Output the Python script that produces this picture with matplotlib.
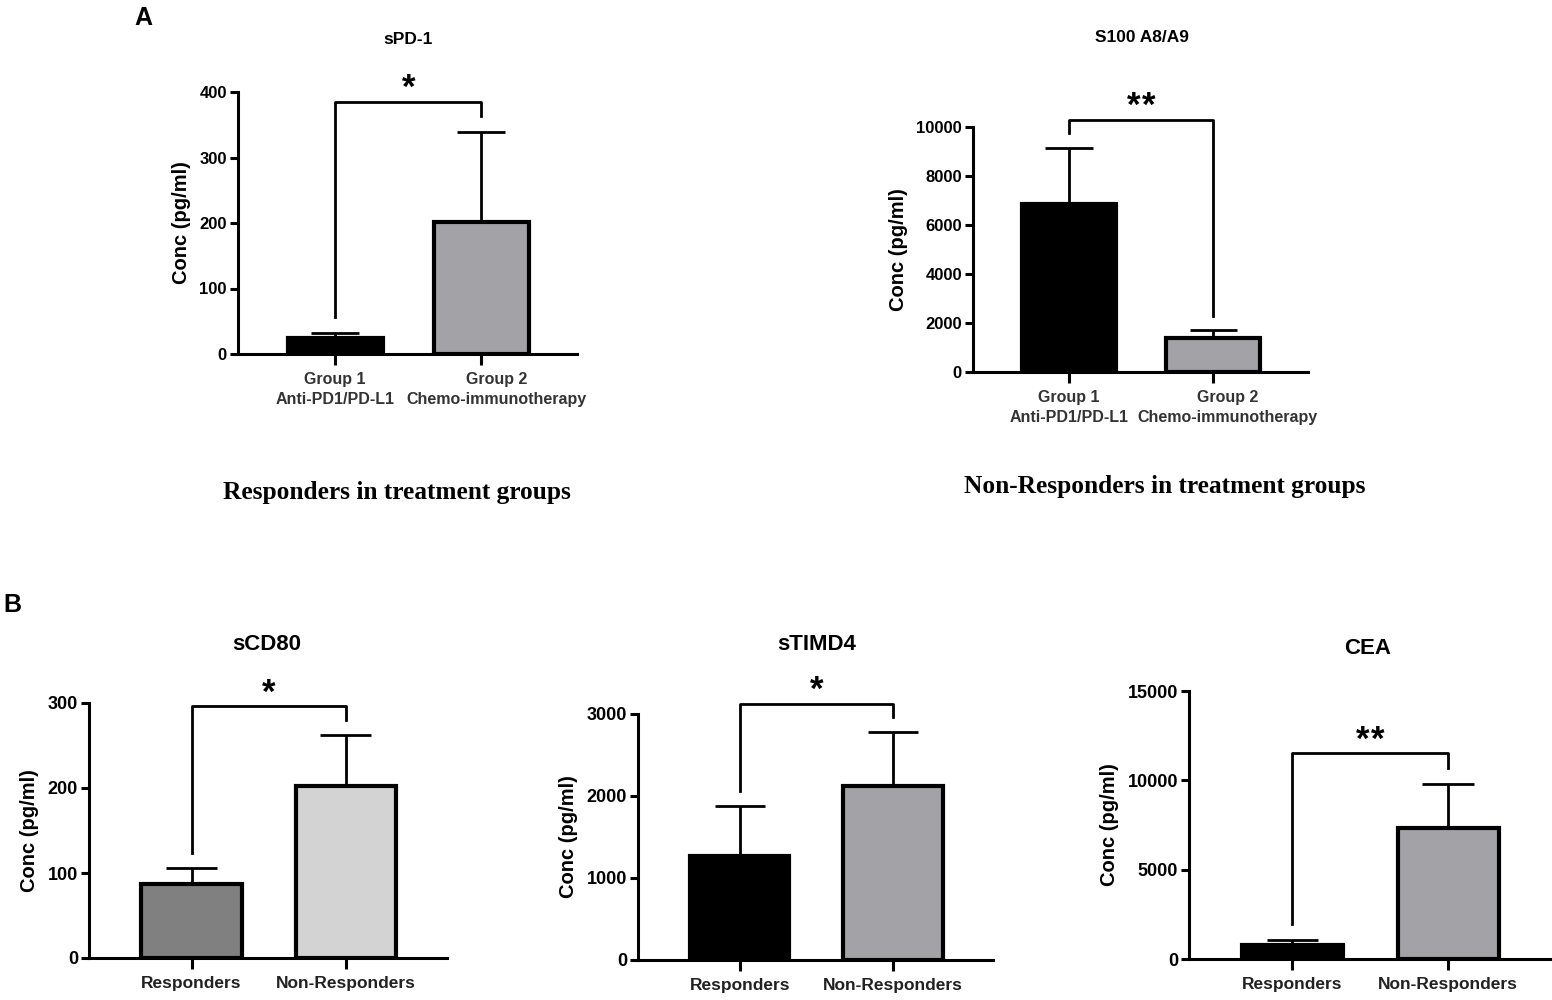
import matplotlib
matplotlib.use("Agg")
import matplotlib.pyplot as plt
import matplotlib.transforms as mtransforms

plt.rcParams['font.family'] = ['Liberation Sans', 'DejaVu Sans']

# ---------------- data ----------------
groups_A = ["Group 1\nAnti-PD1/PD-L1", "Group 2\nChemo-immunotherapy"]
groups_B = ["Responders", "Non-Responders"]

spd1_mean = [25, 201]
spd1_err = [7, 138]

s100_mean = [6850, 1380]
s100_err = [2300, 320]

scd80_mean = [87, 202]
scd80_err = [19, 60]

stimd4_mean = [1270, 2120]
stimd4_err = [610, 660]

cea_mean = [800, 7350]
cea_err = [250, 2450]

titles = ["sPD-1", "S100 A8/A9", "sCD80", "sTIMD4", "CEA"]
stars = ["*", "**", "*", "*", "**"]
ymax = [400, 10000, 300, 3000, 15000]
yticks = [[0, 100, 200, 300, 400],
          [0, 2000, 4000, 6000, 8000, 10000],
          [0, 100, 200, 300],
          [0, 1000, 2000, 3000],
          [0, 5000, 10000, 15000]]
ylabel = "Conc (pg/ml)"
subtitle_A1 = "Responders in treatment groups"
subtitle_A2 = "Non-Responders in treatment groups"

GRAY = '#a3a3a7'
colors = [['black', GRAY], ['black', GRAY], ['#808080', '#d3d3d3'],
          ['black', GRAY], ['black', GRAY]]

W, H = 1552, 1000
fig = plt.figure(figsize=(W / 100, H / 100), dpi=100)


def px_axes(l, t, r, b):
    return fig.add_axes([l / W, 1 - b / H, (r - l) / W, (b - t) / H])


def panel(box, means, errs, labels, cols, ym, ticks, star, title, title_xy,
          title_fs, tick_fs, xlab_fs, xlab_color, shift_second=0.0):
    ax = px_axes(*box)
    x = list(range(len(means)))
    ax.bar(x, means, width=0.65, color=cols, edgecolor='black', linewidth=3,
           zorder=3)
    tops = [m + e for m, e in zip(means, errs)]
    # upper error bars
    ax.vlines(x, means, tops, color='black', linewidth=2, zorder=2)
    ax.hlines(tops, [xi - 0.165 for xi in x], [xi + 0.165 for xi in x],
              color='black', linewidth=2, zorder=2)
    # significance bracket
    by = max(tops) + 0.115 * ym
    legs = [t + 0.06 * ym for t in tops]
    ax.plot([0, 0, 1, 1], [legs[0], by, by, legs[1]], color='black',
            linewidth=2, clip_on=False, zorder=4)
    n = len(star)
    for i in range(n):
        dx = (i - (n - 1) / 2) * 11
        ax.annotate("*", xy=(0.5, by), xytext=(dx, 2.5),
                    textcoords='offset points', ha='center', va='baseline',
                    fontsize=25, fontweight='bold', annotation_clip=False)
    ax.set_xlim(-0.665, 1.655)
    ax.set_ylim(0, ym)
    ax.set_yticks(ticks)
    ax.set_xticks(x)
    ax.set_xticklabels(labels, fontsize=xlab_fs, fontweight='bold',
                       color=xlab_color, linespacing=1.45)
    for lab in ax.get_yticklabels():
        lab.set_fontweight('bold')
        lab.set_fontsize(tick_fs)
    for s in ['top', 'right']:
        ax.spines[s].set_visible(False)
    for s in ['left', 'bottom']:
        ax.spines[s].set_linewidth(2.2)
    ax.tick_params(axis='y', length=6, width=2.2, pad=2)
    ax.tick_params(axis='x', length=8, width=2.2, pad=5)
    if shift_second:
        lab = ax.xaxis.get_major_ticks()[1].label1
        lab.set_transform(lab.get_transform() + mtransforms.ScaledTranslation(
            shift_second / 72, 0, fig.dpi_scale_trans))
    ax.set_ylabel(ylabel, fontsize=14.5, fontweight='bold', labelpad=6)
    fig.text(title_xy[0] / W, 1 - title_xy[1] / H, title, ha='center',
             va='center', fontsize=title_fs, fontweight='bold')
    return ax


panel((238, 92, 577, 354), spd1_mean, spd1_err, groups_A, colors[0], ymax[0],
      yticks[0], stars[0], titles[0], (408, 40), 12.5, 12, 11.5, '#333333',
      shift_second=11)
panel((973, 127, 1308, 372), s100_mean, s100_err, groups_A, colors[1], ymax[1],
      yticks[1], stars[1], titles[1], (1142, 37), 12.5, 12, 11.5, '#333333',
      shift_second=10)
panel((89, 703, 447, 958), scd80_mean, scd80_err, groups_B, colors[2], ymax[2],
      yticks[2], stars[2], titles[2], (267, 645), 16, 13, 12.5, '#222222')
panel((638, 714, 993, 960), stimd4_mean, stimd4_err, groups_B, colors[3],
      ymax[3], yticks[3], stars[3], titles[3], (817, 645), 16, 13, 12.5,
      '#222222')
panel((1189, 691, 1550, 959), cea_mean, cea_err, groups_B, colors[4], ymax[4],
      yticks[4], stars[4], titles[4], (1368, 648), 16, 13, 12.5, '#222222')

fig.text(143 / W, 1 - 18 / H, "A", ha='center', va='center', fontsize=18,
         fontweight='bold')
fig.text(12 / W, 1 - 605 / H, "B", ha='center', va='center', fontsize=18,
         fontweight='bold')
fig.text(397 / W, 1 - 492 / H, subtitle_A1, ha='center', va='center',
         fontsize=18.3, fontweight='bold', family=['Liberation Serif'])
fig.text(1165 / W, 1 - 487 / H, subtitle_A2, ha='center', va='center',
         fontsize=18.3, fontweight='bold', family=['Liberation Serif'])

fig.savefig("out.png", dpi=100, facecolor='white')
